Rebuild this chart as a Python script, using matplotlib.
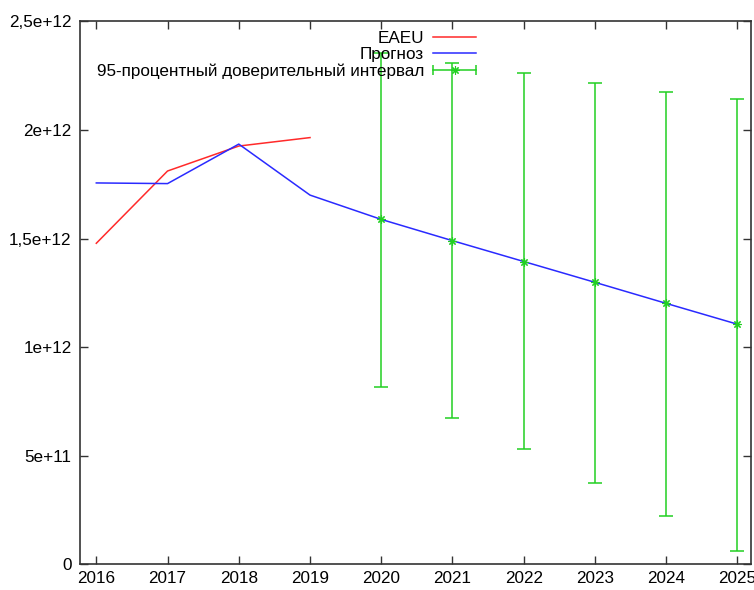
import numpy as np
import matplotlib
matplotlib.use('Agg')
import matplotlib.pyplot as plt
from matplotlib.lines import Line2D
from matplotlib.legend_handler import HandlerBase

plt.rcParams['font.family'] = ['Liberation Sans', 'DejaVu Sans']

# data
years = [2016, 2017, 2018, 2019, 2020, 2021, 2022, 2023, 2024, 2025]
eaeu_years = [2016, 2017, 2018, 2019]
eaeu = [1.478e12, 1.811e12, 1.926e12, 1.965e12]
forecast = [1.756e12, 1.753e12, 1.935e12, 1.700e12, 1.588e12,
            1.490e12, 1.394e12, 1.298e12, 1.201e12, 1.105e12]
ci_years = [2020, 2021, 2022, 2023, 2024, 2025]
ci_mid = [1.588e12, 1.490e12, 1.394e12, 1.298e12, 1.201e12, 1.105e12]
ci_low = [0.817e12, 0.674e12, 0.529e12, 0.375e12, 0.223e12, 0.061e12]
ci_high = [2.355e12, 2.309e12, 2.261e12, 2.215e12, 2.177e12, 2.141e12]
yticks = [0, 0.5e12, 1e12, 1.5e12, 2e12, 2.5e12]
ytick_labels = ['0', '5e+11', '1e+12', '1,5e+12', '2e+12', '2,5e+12']

red = '#ff2a2a'
blue = '#2a2aff'
green = '#22d022'
star = (8, 2, 0)
fs = 12.3


class HandlerHBar(HandlerBase):
    # gnuplot-style key sample: horizontal bar with caps and a point
    def create_artists(self, legend, orig_handle, xdescent, ydescent,
                       width, height, fontsize, trans):
        y = height / 2 - ydescent
        x0 = -xdescent
        x1 = -xdescent + width
        bar = Line2D([x0, x1], [y, y], color=green, lw=1.1)
        caps = Line2D([x0, x1], [y, y], ls='', marker='|', ms=7,
                      mew=1.1, color=green)
        pt = Line2D([(x0 + x1) / 2], [y], ls='', marker=star, ms=6,
                    mew=0.8, color=green)
        for a in (bar, caps, pt):
            a.set_transform(trans)
        return [bar, caps, pt]


fig = plt.figure(figsize=(7.54, 5.90), dpi=100)
ax = fig.add_axes([0.106, 0.044, 0.890, 0.9196])

ax.plot(eaeu_years, eaeu, color=red, lw=1.1, label='EAEU')
ax.plot(years, forecast, color=blue, lw=1.1, label='Прогноз')
lo = np.array(ci_mid) - np.array(ci_low)
hi = np.array(ci_high) - np.array(ci_mid)
eb = ax.errorbar(ci_years, ci_mid, yerr=[lo, hi], fmt='none', ecolor=green,
                 elinewidth=1.1, capsize=5, capthick=1.1)
ax.plot(ci_years, ci_mid, ls='', marker=star, ms=6, mew=0.8, color=green)

ax.set_xlim(2015.77, 2025.19)
ax.set_ylim(0, 2.5e12)
ax.set_xticks(years)
ax.set_xticklabels([str(y) for y in years])
ax.set_yticks(yticks)
ax.set_yticklabels(ytick_labels)
ax.tick_params(direction='in', length=6, width=1.0, labelsize=fs,
               top=True, right=True, color='#333333')
ax.tick_params(axis='y', pad=6)
ax.tick_params(axis='x', pad=5)
for s in ax.spines.values():
    s.set_linewidth(1.2)
    s.set_color('#333333')

handles = [Line2D([], [], color=red, lw=1.1),
           Line2D([], [], color=blue, lw=1.1),
           eb]
labels = ['EAEU', 'Прогноз', '95-процентный доверительный интервал']
leg = ax.legend(handles, labels, loc='upper right',
                bbox_to_anchor=(476 / 754, 1 - 31 / 590),
                bbox_transform=fig.transFigure, frameon=False,
                markerfirst=False, fontsize=fs, handlelength=2.5,
                handletextpad=0.55, labelspacing=0.08, borderpad=0,
                borderaxespad=0, handler_map={eb: HandlerHBar()})
for t in leg.get_texts():
    t.set_ha('right')

fig.savefig('out.png', dpi=100)
